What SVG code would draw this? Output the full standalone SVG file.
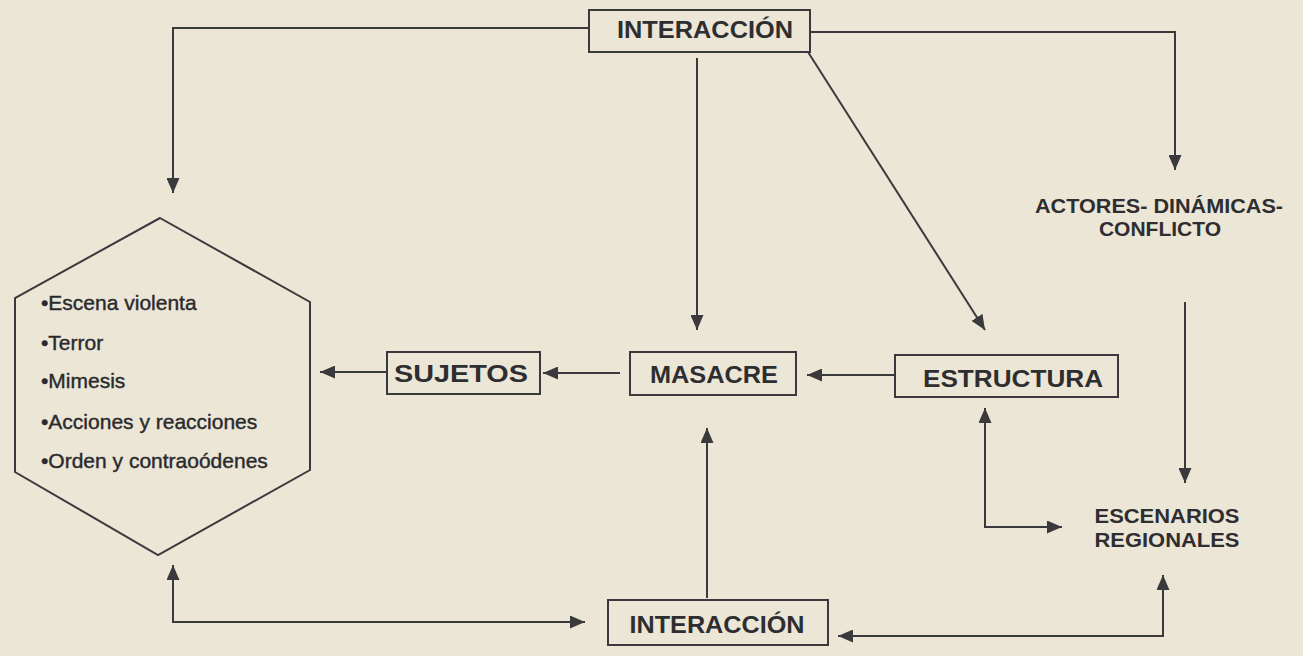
<svg xmlns="http://www.w3.org/2000/svg" width="1303" height="656" viewBox="0 0 1303 656">
<style>
.bg{fill:#ece6d7}
.box{fill:#ece6d7;stroke:#3a3a3c;stroke-width:2}
.ln{fill:none;stroke:#3a3a3c;stroke-width:2}
.t{font-family:"Liberation Sans",Arial,sans-serif;font-weight:bold;fill:#2e2e30}
.big{font-size:24px}
.mid{font-size:21px}
.item{font-family:"Liberation Sans",Arial,sans-serif;font-size:21px;fill:#2a2a2c;stroke:#2a2a2c;stroke-width:0.4}
</style>
<defs>
<marker id="ah" viewBox="0 0 15 13" refX="15" refY="6.5" markerWidth="15" markerHeight="13" markerUnits="userSpaceOnUse" orient="auto-start-reverse">
<path d="M0,0 L15,6.5 L0,13 z" fill="#3a3a3c"/>
</marker>
</defs>
<rect class="bg" x="0" y="0" width="1303" height="656"/>
<g id="connectors">
<path class="ln" d="M588,28 H173 V193" marker-end="url(#ah)"/>
<path class="ln" d="M810,32 H1175 V170" marker-end="url(#ah)"/>
<path class="ln" d="M808,52 L985,330" marker-end="url(#ah)"/>
<path class="ln" d="M697,58 V330" marker-end="url(#ah)"/>
<path class="ln" d="M895,375 H807" marker-end="url(#ah)"/>
<path class="ln" d="M620,373 H543" marker-end="url(#ah)"/>
<path class="ln" d="M387,372 H320" marker-end="url(#ah)"/>
<path class="ln" d="M173,565 V622 H585" marker-start="url(#ah)" marker-end="url(#ah)"/>
<path class="ln" d="M707,598 V428" marker-end="url(#ah)"/>
<path class="ln" d="M838,636 H1163 V575" marker-start="url(#ah)" marker-end="url(#ah)"/>
<path class="ln" d="M985,408 V527 H1062" marker-start="url(#ah)" marker-end="url(#ah)"/>
<path class="ln" d="M1185,302 V483" marker-end="url(#ah)"/>
</g>
<g id="interaccion-top">
<rect class="box" x="589" y="10" width="221" height="42"/>
<text class="t big" x="705" y="38" text-anchor="middle" textLength="176" lengthAdjust="spacingAndGlyphs">INTERACCIÓN</text>
</g>
<g id="actores">
<text class="t mid" x="1159" y="213" text-anchor="middle" textLength="248" lengthAdjust="spacingAndGlyphs">ACTORES- DINÁMICAS-</text>
<text class="t mid" x="1160" y="236" text-anchor="middle">CONFLICTO</text>
</g>
<g id="hexagono">
<polygon class="box" points="160,218 310,302 310,470 158,555 15,472 15,298"/>
<text class="item" x="41" y="310">•Escena violenta</text>
<text class="item" x="41" y="350">•Terror</text>
<text class="item" x="41" y="388">•Mimesis</text>
<text class="item" x="41" y="429">•Acciones y reacciones</text>
<text class="item" x="41" y="468">•Orden y contraoódenes</text>
</g>
<g id="sujetos">
<rect class="box" x="387" y="352" width="153" height="42"/>
<text class="t big" x="461" y="382" text-anchor="middle" textLength="134" lengthAdjust="spacingAndGlyphs">SUJETOS</text>
</g>
<g id="masacre">
<rect class="box" x="630" y="352" width="166" height="43"/>
<text class="t big" x="714" y="383" text-anchor="middle" textLength="128" lengthAdjust="spacingAndGlyphs">MASACRE</text>
</g>
<g id="estructura">
<rect class="box" x="895" y="355" width="223" height="42"/>
<text class="t big" x="1013" y="387" text-anchor="middle" textLength="180" lengthAdjust="spacingAndGlyphs">ESTRUCTURA</text>
</g>
<g id="escenarios">
<text class="t mid" x="1167" y="523" text-anchor="middle" textLength="145" lengthAdjust="spacingAndGlyphs">ESCENARIOS</text>
<text class="t mid" x="1167" y="547" text-anchor="middle" textLength="145" lengthAdjust="spacingAndGlyphs">REGIONALES</text>
</g>
<g id="interaccion-bottom">
<rect class="box" x="608" y="600" width="220" height="45"/>
<text class="t big" x="717" y="633" text-anchor="middle" textLength="175" lengthAdjust="spacingAndGlyphs">INTERACCIÓN</text>
</g>
</svg>
